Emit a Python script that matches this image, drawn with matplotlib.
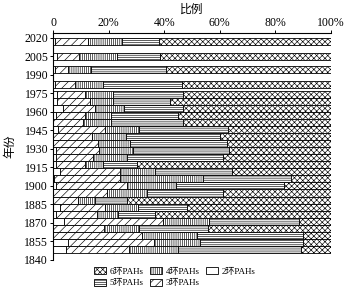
import matplotlib
matplotlib.use('Agg')
import matplotlib.pyplot as plt
import matplotlib.patches as mpatches
import numpy as np

plt.rcParams['font.family'] = ['Liberation Serif', 'Noto Sans CJK SC']
plt.rcParams['hatch.linewidth'] = 0.45

# sample years (bar centres) and ring-class shares (%), top to bottom
years = [2017, 2005, 1994, 1982.5,
         1974, 1968.3, 1962.6, 1956.9, 1951.2, 1945.5, 1939.8, 1934.1,
         1928.4, 1922.7, 1917, 1911.3, 1905.6, 1899.9, 1894.2, 1888.5,
         1882.8, 1877.1, 1871.4, 1865.7, 1860, 1854.3, 1848.6]

# cumulative right edges
ring2_end = [0.6, 1.6, 0.7, 0.7,
             1.6, 1.6, 3.7, 1.1, 0.0, 1.9, 0.0, 0.0,
             1.1, 1.1, 1.1, 2.5, 0.5, 1.0, 0.0, 0.0,
             2.5, 1.1, 4.0, 0.0, 0.0, 5.5, 4.7]
ring3_end = [12.7, 9.5, 5.5, 7.9,
             11.5, 13.3, 15.1, 11.5, 10.9, 18.7, 13.9, 16.3,
             16.7, 14.3, 11.5, 24.1, 24.1, 26.5, 19.3, 9.1,
             18.7, 15.7, 39.7, 18.3, 31.9, 36.5, 27.5]
ring4_end = [24.9, 22.9, 13.5, 18.1,
             21.7, 21.7, 25.5, 20.9, 20.9, 31.1, 26.3, 27.7,
             28.9, 26.5, 17.9, 36.7, 54.1, 44.2, 33.7, 15.1,
             30.7, 23.3, 56.2, 30.9, 51.7, 52.9, 44.8]
ring5_end = [38.2, 38.5, 40.6, 46.5,
             46.9, 42.1, 46.9, 44.8, 46.9, 63.1, 60.1, 62.5,
             63.3, 61.0, 30.3, 64.3, 85.8, 83.2, 61.3, 26.7,
             48.1, 36.7, 88.6, 55.9, 89.8, 90.0, 89.2]

e2 = np.array(ring2_end)
e3 = np.array(ring3_end)
e4 = np.array(ring4_end)
e5 = np.array(ring5_end)
p2 = e2
p3 = e3 - e2
p4 = e4 - e3
p5 = e5 - e4
p6 = 100 - e5

ytick_vals = [1840, 1855, 1870, 1885, 1900, 1915, 1930, 1945, 1960, 1975, 1990, 2005, 2020]
xtick_vals = [0, 20, 40, 60, 80, 100]
xtick_labels = ['0', '20%', '40%', '60%', '80%', '100%']

fig = plt.figure(figsize=(3.49, 2.96), dpi=100)
ax = fig.add_axes([0.152, 0.122, 0.796, 0.767])

h = 5.7
kw = dict(height=h, color='white', edgecolor='black', linewidth=0.6)
ax.barh(years, p2, left=0, **kw)
ax.barh(years, p3, left=e2, hatch='////', **kw)
ax.barh(years, p4, left=e3, hatch='||||||||', **kw)
ax.barh(years, p5, left=e4, hatch='--------', **kw)
ax.barh(years, p6, left=e5, hatch='xxxxxx', **kw)

ax.set_xlim(0, 100)
ax.set_ylim(1840, 2024)
ax.xaxis.tick_top()
ax.xaxis.set_label_position('top')
ax.set_xticks(xtick_vals)
ax.set_xticklabels(xtick_labels)
ax.set_yticks(ytick_vals)
ax.tick_params(labelsize=8.5, length=2, width=0.7, pad=1.5)
ax.tick_params(axis='x', pad=0.5)
ax.spines['right'].set_visible(False)
ax.spines['bottom'].set_visible(False)
ax.spines['top'].set_linewidth(0.8)
ax.spines['left'].set_linewidth(0.8)
ax.set_xlabel('比例', fontsize=8.5, labelpad=3)
ax.set_ylabel('年份', fontsize=8.5, labelpad=6)

handles = [
    mpatches.Patch(facecolor='white', edgecolor='black', hatch='xxxxxx', lw=0.6, label='6环PAHs'),
    mpatches.Patch(facecolor='white', edgecolor='black', hatch='--------', lw=0.6, label='5环PAHs'),
    mpatches.Patch(facecolor='white', edgecolor='black', hatch='||||||||', lw=0.6, label='4环PAHs'),
    mpatches.Patch(facecolor='white', edgecolor='black', hatch='////', lw=0.6, label='3环PAHs'),
    mpatches.Patch(facecolor='white', edgecolor='black', lw=0.6, label='2环PAHs'),
]
fig.legend(handles=handles, ncol=3, loc='center', bbox_to_anchor=(0.5, 0.063),
           frameon=False, fontsize=6.5, handlelength=1.4, handleheight=0.8,
           columnspacing=0.7, handletextpad=0.35, labelspacing=0.3)

fig.savefig('out.png', dpi=100)
